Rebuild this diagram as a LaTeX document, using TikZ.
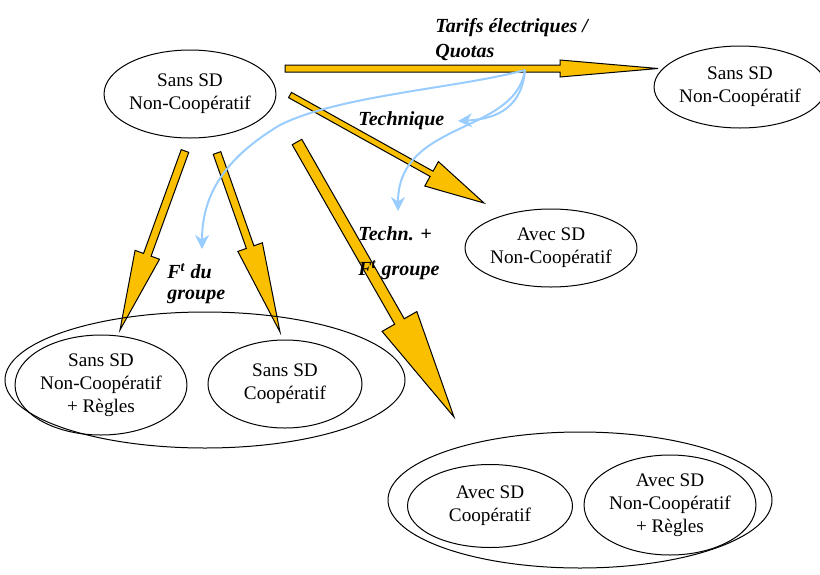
\documentclass[tikz,border=0pt]{standalone}
\usepackage{fontspec}
\setmainfont{Liberation Serif}
\usetikzlibrary{shapes.geometric,calc,arrows.meta}

\definecolor{jaune}{RGB}{250,192,0}
\definecolor{bleuclair}{RGB}{153,204,255}

\tikzset{
  etat/.style={ellipse, draw, line width=0.5pt, inner sep=0pt, align=center,
    font=\fontsize{9.6}{11.5}\selectfont},
  groupe/.style={ellipse, draw, line width=0.5pt, inner sep=0pt},
  fleche/.style={fill=jaune, draw=black, line width=0.5pt, line join=miter},
  influence/.style={draw=bleuclair, line width=1pt, -{Stealth[length=7pt,width=7pt]}},
  etiquette/.style={inner sep=0pt, align=left, anchor=north west,
    font=\fontsize{10}{12.5}\selectfont\bfseries\itshape},
}

% grosse fleche : depart, arrivee, demi-corps, demi-tete, longueur de tete
\newcommand{\grossefleche}[5]{%
  \coordinate (hb) at ($(#2)!#5!(#1)$);
  \filldraw[fleche] ($(#1)!#3!90:(#2)$) -- ($(hb)!#3!-90:(#1)$) -- ($(hb)!#4!-90:(#1)$)
    -- (#2) -- ($(hb)!#4!90:(#1)$) -- ($(hb)!#3!90:(#1)$) -- ($(#1)!#3!-90:(#2)$) -- cycle;
}

\begin{document}
\begin{tikzpicture}[x=0.5pt, y=-0.5pt]
  \useasboundingbox (0,0) rectangle (820,574);

  % Departs et arrivees des fleches
  \coordinate (tarifD) at (285,68.5);
  \coordinate (tarifA) at (658,68.5);
  \coordinate (techD) at (290,95);
  \coordinate (techA) at (484,203);
  \coordinate (gaucheD) at (185,151);
  \coordinate (gaucheA) at (120,330);
  \coordinate (droiteD) at (217,153);
  \coordinate (droiteA) at (280,332);
  \coordinate (longueD) at (297,142);
  \coordinate (longueA) at (454,417);

  % Grosses fleches
  \grossefleche{tarifD}{tarifA}{1.75pt}{4.25pt}{49pt}
  \grossefleche{techD}{techA}{1.5pt}{7pt}{30pt}
  \grossefleche{gaucheD}{gaucheA}{2pt}{6.5pt}{40pt}
  \grossefleche{droiteD}{droiteA}{2pt}{6.5pt}{45pt}
  \grossefleche{longueD}{longueA}{2.75pt}{10pt}{55pt}

  % Situations
  \node[etat, minimum width=85pt, minimum height=44pt] (sansA) at (190,94)
    {Sans SD\\Non-Coop\'eratif};
  \node[etat, minimum width=75pt, minimum height=41pt] (sansB) at (740,87)
    {Sans SD\\Non-Coop\'eratif};
  \node[etat, minimum width=84pt, minimum height=39pt] (avecNC) at (551,248)
    {Avec SD\\Non-Coop\'eratif};

  % Groupe sans SD
  \node[groupe, minimum width=200pt, minimum height=68pt] (grpSans) at (205,380) {};
  \node[etat, minimum width=83pt, minimum height=50pt] (sansRegles) at (101,385)
    {Sans SD\\Non-Coop\'eratif\\+ R\`egles};
  \node[etat, minimum width=77pt, minimum height=44pt] (sansCoop) at (285,384)
    {Sans SD\\Coop\'eratif};

  % Groupe avec SD
  \node[groupe, minimum width=192pt, minimum height=68pt] (grpAvec) at (580,500) {};
  \node[etat, minimum width=82.5pt, minimum height=41.5pt] (avecCoop) at (490,506)
    {Avec SD\\Coop\'eratif};
  \node[etat, minimum width=82.5pt, minimum height=50pt] (avecRegles) at (670,505)
    {Avec SD\\Non-Coop\'eratif\\+ R\`egles};

  % Influences
  \coordinate (src) at (525,70);
  \coordinate (finTech) at (458,121);
  \coordinate (finTechn) at (398,211);
  \coordinate (finDu) at (202,249);
  \draw[influence] (src) .. controls (522,105) and (500,119) .. (finTech);
  \draw[influence] (src) .. controls (515,135) and (398,120) .. (finTechn);
  \draw[influence] (src) .. controls (460,88) and (340,95) .. (280,125)
    .. controls (230,155) and (202,190) .. (finDu);

  % Etiquettes
  \node[etiquette] (lTarif) at (435,18) {Tarifs \'electriques /\\Quotas};
  \node[etiquette] (lTech) at (358,111) {Technique};
  \node[etiquette] (lTechn) at (358,226) {Techn. +\\[5pt]F\textsuperscript{t} groupe};
  \node[etiquette] (lDu) at (167,263) {F\textsuperscript{t} du\\[-2pt]groupe};
\end{tikzpicture}
\end{document}
